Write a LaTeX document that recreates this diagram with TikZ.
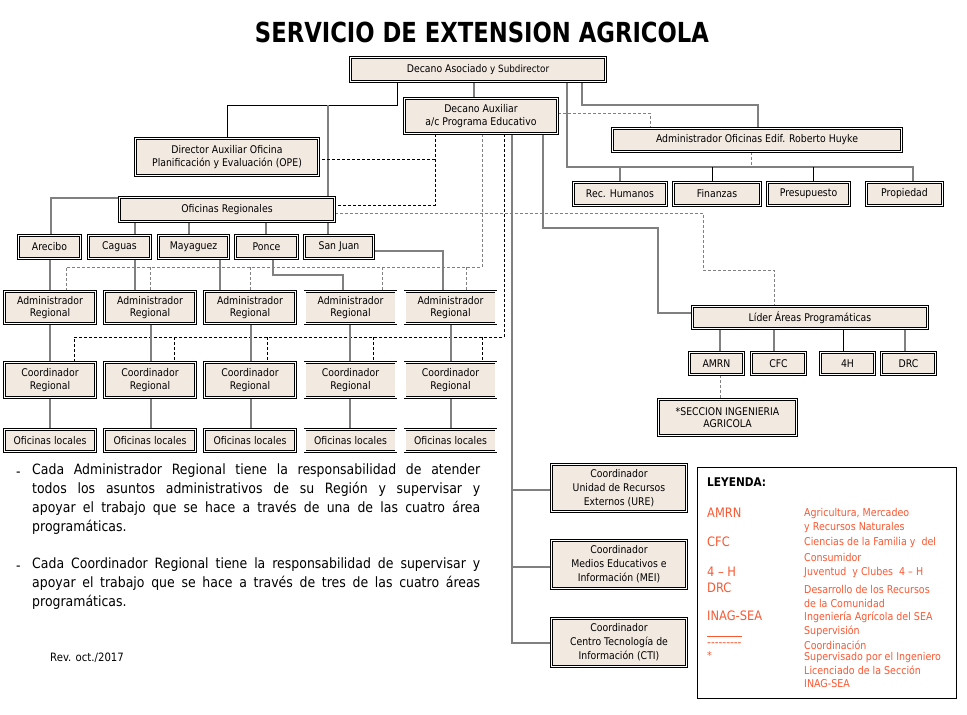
\documentclass[tikz,border=0pt]{standalone}
\usepackage{graphicx}
\usepackage{fontspec}
\setmainfont{DejaVu Sans}[FakeStretch=0.88]
\definecolor{boxfill}{RGB}{242,233,225}
\definecolor{legc}{RGB}{250,88,50}
\definecolor{lgray}{RGB}{128,128,128}
\pgfdeclarelayer{background}
\pgfsetlayers{background,main}
\hyphenpenalty=10000
\exhyphenpenalty=10000
\begin{document}
\begin{tikzpicture}[x=1pt,y=-1pt,
 box/.style={draw=black, double=white, double distance=1.4pt, line width=0.75pt, fill=boxfill, inner sep=0pt, align=center, font=\fontsize{10.6}{12.5}\selectfont},
 box3/.style={box, font=\fontsize{10.6}{14}\selectfont},
 sup/.style={draw=lgray, line width=1.1pt},
 supk/.style={draw=black, line width=0.9pt},
 crd/.style={draw=black, line width=0.8pt, dash pattern=on 3pt off 2pt},
 crdg/.style={draw=lgray, line width=0.9pt, dash pattern=on 3pt off 2pt},
 legl/.style={anchor=west, inner sep=0pt, text=legc, font=\fontsize{13}{14}\selectfont},
 legr/.style={anchor=west, inner sep=0pt, text=legc, font=\fontsize{10.8}{12}\selectfont},
 para/.style={anchor=north west, inner sep=0pt, text width=448pt, align=justify, font=\fontsize{14.2}{18.7}\selectfont},
]
\useasboundingbox (0,0) rectangle (967,715);

% title
\node[anchor=south, inner sep=0pt] (title) at (482,43) {\resizebox{454pt}{20.5pt}{\bfseries SERVICIO DE EXTENSION AGRICOLA}};

% top level
\node[box, minimum width=255, minimum height=24] (dean) at (478,69.5) {Decano Asociado {\fontsize{10}{12}\selectfont y Subdirector}};
\node[box, minimum width=153, minimum height=35] (aux) at (481,116) {Decano Auxiliar\\a/c Programa Educativo};
\node[box, minimum width=183, minimum height=37] (ope) at (227,157) {Director Auxiliar Oficina\\Planificación y Evaluación (OPE)};
\node[box, minimum width=215, minimum height=24] (ofreg) at (227,209.5) {Oficinas Regionales};
\node[box, minimum width=289, minimum height=23] (admof) at (757,140) {Administrador Oficinas Edif. Roberto Huyke};
\node[box, minimum width=93, minimum height=23] (rh) at (620,194) {Rec. Humanos};
\node[box, minimum width=87, minimum height=23] (fin) at (717,194) {Finanzas};
\node[box, minimum width=82, minimum height=23] (pre) at (808.5,194) {Presupuesto};
\node[box, minimum width=76, minimum height=23] (pro) at (904.5,194) {Propiedad};

% regions
\node[box, minimum width=62, minimum height=23] (are) at (49.5,247) {Arecibo};
\node[box, minimum width=62, minimum height=23] (cag) at (119.5,247) {Caguas};
\node[box, minimum width=70, minimum height=23] (may) at (193.5,247) {Mayaguez};
\node[box, minimum width=62, minimum height=23] (pon) at (266.5,247) {Ponce};
\node[box, minimum width=69, minimum height=23] (sj) at (339,247) {San Juan};

\foreach \i/\x in {1/50,2/150,3/250,4/350.5,5/450.5}{
 \node[box, minimum width=91, minimum height=32] (ad\i) at (\x,307.5) {Administrador\\Regional};
 \node[box, minimum width=91, minimum height=35] (co\i) at (\x,380) {Coordinador\\Regional};
 \node[box, minimum width=91, minimum height=22] (lo\i) at (\x,440.5) {Oficinas locales};
}

% program areas
\node[box, minimum width=235, minimum height=22] (lider) at (810,317.5) {Líder Áreas Programáticas};
\node[box, minimum width=54, minimum height=22] (amrn) at (716.5,363.5) {AMRN};
\node[box, minimum width=54, minimum height=22] (cfc) at (778.5,363.5) {CFC};
\node[box, minimum width=54, minimum height=22] (h4) at (847.5,363.5) {4H};
\node[box, minimum width=54, minimum height=22] (drc) at (908.5,363.5) {DRC};
\node[box, minimum width=138, minimum height=36] (sec) at (727.5,417.5) {*SECCION INGENIERIA\\AGRICOLA};

\node[box3, minimum width=135, minimum height=47] (ure) at (619,488) {Coordinador\\Unidad de Recursos\\Externos (URE)};
\node[box3, minimum width=135, minimum height=48] (mei) at (619,564.5) {Coordinador\\Medios Educativos e\\Información (MEI)};
\node[box3, minimum width=135, minimum height=48] (cti) at (619,642.5) {Coordinador\\Centro Tecnología de\\Información (CTI)};

\begin{pgfonlayer}{background}
\fill[white] (0,0) rectangle (967,715);
\draw[supk] (dean.south -| 397,0) -- (397,105) -| (ope.north);
\draw[sup] (dean.south -| 474,0) -- (aux.north -| 474,0);
\draw[sup] (328,105) -- (ofreg.north -| 328,0);
\draw[sup] (ofreg.south -| 328,0) -- (sj.north -| 328,0);
\draw[sup] (dean.south -| 582,0) -- (582,105) -- (758,105) -- (admof.north -| 758,0);
\draw[sup] (dean.south -| 567,0) -- (567,167) -- (913,167) -- (pro.north -| 913,0);
\draw[sup] (620,167) -- (rh.north -| 620,0);
\draw[supk] (712,167) -- (fin.north -| 712,0);
\draw[supk] (813,167) -- (pre.north -| 813,0);
\draw[crdg] (admof.south -| 751,0) -- (751,167);
\draw[crdg] (aux.east |- 0,113) -- (650,113) -- (admof.north -| 650,0);
\draw[crd] (aux.south -| 435,0) -- (435,205) -- (ofreg.east |- 0,205);
\draw[crd] (435,159) -- (ope.east |- 0,159);
\draw[crdg] (ofreg.east |- 0,213) -- (703,213) -- (703,270) -- (774,270) -- (lider.north -| 774,0);
\draw[sup] (aux.south -| 543,0) -- (543,228) -- (658,228) -- (658,313) -- (lider.west |- 0,313);
\draw[crdg] (aux.south -| 482,0) -- (482,267) -- (66,267) -- (ad1.north -| 66,0);
\foreach \x/\n in {150/2,250/3,382/4,466/5} \draw[crdg] (\x,267) -- (ad\n.north -| \x,0);
\draw[crd] (aux.south -| 504,0) -- (504,337) -- (74,337) -- (co1.north -| 74,0);
\foreach \x/\n in {174/2,267/3,373/4,482/5} \draw[crd] (\x,337) -- (co\n.north -| \x,0);
\draw[sup] (aux.south -| 512,0) -- (512,643) -- (cti.west |- 0,643);
\draw[sup] (512,490) -- (ure.west |- 0,490);
\draw[sup] (512,567) -- (mei.west |- 0,567);
\draw[sup] (ofreg.west |- 0,198) -- (51,198) -- (are.north -| 51,0);
\foreach \x/\n in {135/cag,189/may,266/pon} \draw[sup] (ofreg.south -| \x,0) -- (\n.north -| \x,0);
\draw[sup] (are.south -| 50,0) -- (ad1.north -| 50,0);
\draw[sup] (cag.south -| 135,0) -- (ad2.north -| 135,0);
\draw[sup] (may.south -| 220,0) -- (ad3.north -| 220,0);
\draw[sup] (pon.south -| 273,0) -- (273,275) -- (343,275) -- (ad4.north -| 343,0);
\draw[sup] (sj.east |- 0,251) -- (443,251) -- (ad5.north -| 443,0);
\foreach \i/\x in {1/50,2/151,3/251,4/350,5/451}{
 \draw[sup] (ad\i.south -| \x,0) -- (co\i.north -| \x,0);
 \draw[sup] (co\i.south -| \x,0) -- (lo\i.north -| \x,0);
}
\foreach \x/\n in {720/amrn,774/cfc,905/drc} \draw[sup] (lider.south -| \x,0) -- (\n.north -| \x,0);
\draw[supk] (lider.south -| 843,0) -- (h4.north -| 843,0);
\draw[crdg] (amrn.south -| 720,0) -- (sec.north -| 720,0);
\end{pgfonlayer}

% notes
\node[anchor=west, inner sep=0pt, font=\fontsize{14.2}{18.7}\selectfont] (dash1) at (16,474) {-};
\node[para] (p1) at (32,464) {Cada Administrador Regional tiene la responsabilidad de atender\linebreak todos los asuntos administrativos de su Región y supervisar y\linebreak apoyar el trabajo que se hace a través de una de las cuatro área\linebreak programáticas.};
\node[anchor=west, inner sep=0pt, font=\fontsize{14.2}{18.7}\selectfont] (dash2) at (16,568) {-};
\node[para] (p2) at (32,558) {Cada Coordinador Regional tiene la responsabilidad de supervisar y\linebreak apoyar el trabajo que se hace a través de tres de las cuatro áreas\linebreak programáticas.};
\node[anchor=west, inner sep=0pt, font=\fontsize{11.5}{12}\selectfont] (rev) at (50,658) {Rev. oct./2017};

% legend
\draw[line width=1pt] (697,467) rectangle (956,698);
\node[anchor=west, inner sep=0pt, font=\bfseries\fontsize{12}{12}\selectfont] (ley) at (707,482) {LEYENDA:};
\node[legl] (l1) at (707,513) {AMRN};
\node[legl] (l2) at (707,542) {CFC};
\node[legl] (l3) at (707,572) {4 – H};
\node[legl] (l4) at (707,588) {DRC};
\node[legl] (l5) at (707,616) {INAG-SEA};
\draw[legc, line width=0.8pt] (707,636) -- (742,636);
\node[legr, font=\fontsize{12}{12}\selectfont] (l7) at (707,645) {-{}-{}-{}-{}-{}-{}-{}-{}-};
\node[legr] (l8) at (707,655) {*};
\node[legr] (r1) at (804,514) {Agricultura, Mercadeo};
\node[legr] (r1b) at (804,528) {y Recursos Naturales};
\node[legr] (r2) at (804,543) {Ciencias de la Familia y \ del};
\node[legr] (r2b) at (804,557) {Consumidor};
\node[legr] (r3) at (804,573) {Juventud \ y Clubes \ 4 – H};
\node[legr] (r4) at (804,589) {Desarrollo de los Recursos};
\node[legr] (r4b) at (804,603) {de la Comunidad};
\node[legr] (r5) at (804,617) {Ingeniería Agrícola del SEA};
\node[legr] (r6) at (804,631) {Supervisión};
\node[legr] (r7) at (804,645) {Coordinación};
\node[legr] (r8) at (804,658) {Supervisado por el Ingeniero};
\node[legr] (r8b) at (804,670) {Licenciado de la Sección};
\node[legr] (r8c) at (804,684) {INAG-SEA};
\end{tikzpicture}
\end{document}
